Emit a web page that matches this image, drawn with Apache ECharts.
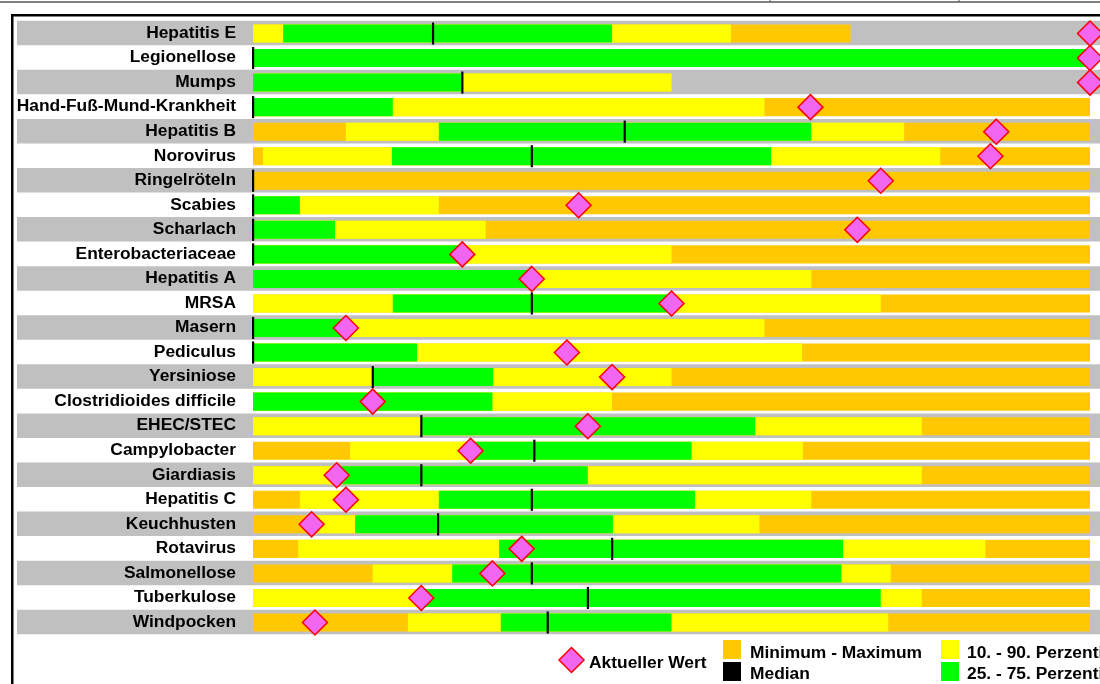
<!DOCTYPE html>
<html>
<head>
<meta charset="utf-8">
<script src="https://cdn.jsdelivr.net/npm/echarts@6/dist/echarts.min.js"></script>
<style>
html,body{margin:0;padding:0;background:#fff;}
#chart{width:1100px;height:684px;}
</style>
</head>
<body>
<div id="chart"></div>
<script>
const categories = ['Hepatitis E','Legionellose','Mumps','Hand-Fuß-Mund-Krankheit','Hepatitis B','Norovirus','Ringelröteln','Scabies','Scharlach','Enterobacteriaceae','Hepatitis A','MRSA','Masern','Pediculus','Yersiniose','Clostridioides difficile','EHEC/STEC','Campylobacter','Giardiasis','Hepatitis C','Keuchhusten','Rotavirus','Salmonellose','Tuberkulose','Windpocken'];
const minimum = [0,0,0,0,0,0,0,0,0,0,0,0,0,0,0,0,0,0,0,0,0,0,0,0,0];
const p10     = [0,0,0,0,11.1,1.2,0,0,0,0,0,0,0,0,0,0,0,11.6,0,5.6,7.0,5.4,14.3,0,18.5];
const p25     = [3.6,0,0,0,22.2,16.6,0,0,0,0,0,16.7,0,0,14.3,0,20.1,26.0,10.0,22.2,12.2,29.4,23.8,20.1,29.6];
const median  = [21.5,0,25.0,0,44.4,33.3,0,0,0,0,33.3,33.3,0,0,14.3,14.3,20.1,33.6,20.1,33.3,22.1,42.9,33.3,40.0,35.2];
const p75     = [42.9,100,25.0,16.7,66.7,61.9,0,5.6,9.8,25.0,33.3,50.0,11.1,19.6,28.7,28.6,60.0,52.4,40.0,52.8,43.0,70.5,70.3,75.0,50.0];
const p90     = [57.1,100,50.0,61.1,77.8,82.1,0,22.2,27.8,50.0,66.7,75.0,61.1,65.6,50.0,42.9,79.9,65.7,79.9,66.7,60.5,87.5,76.2,79.9,75.9];
const maximum = [71.4,100,50.0,100,100,100,100,100,100,100,100,100,100,100,100,100,100,100,100,100,100,100,100,100,100];
const current = [100,100,100,66.6,88.8,88.1,75.0,38.9,72.2,25.0,33.3,50.0,11.1,37.5,42.9,14.3,40.0,26.0,10.0,11.1,7.0,32.1,28.6,20.1,7.4];
const legendLabels = ['Aktueller Wert','Minimum - Maximum','Median','10. - 90. Perzentil','25. - 75. Perzentil'];

const FONT = 'Liberation Sans, Arial, sans-serif';
const C_ORANGE = '#FFC800', C_YELLOW = '#FFFF00', C_GREEN = '#00FF00', C_GRAY = '#C0C0C0', C_PINK = '#F266F0';

function rangeRender(params, api) {
  const idx = api.value(2);
  const s = api.coord([api.value(0), idx]);
  const e = api.coord([api.value(1), idx]);
  const h = api.size([0, 1])[1] * 0.735;
  return { type: 'rect', shape: { x: s[0], y: s[1] - h / 2 + 0.5, width: e[0] - s[0], height: h }, style: api.style() };
}
function medianRender(params, api) {
  const idx = api.value(1);
  const p = api.coord([api.value(0), idx]);
  const h = api.size([0, 1])[1] * 0.9;
  return { type: 'rect', shape: { x: p[0] - 1, y: p[1] - h / 2 + 0.5, width: 2.2, height: h }, style: { fill: '#000' } };
}
function bandRender(params, api) {
  const idx = api.value(0);
  const p = api.coord([0, idx]);
  const h = api.size([0, 1])[1];
  return { type: 'rect', shape: { x: 17, y: p[1] - h / 2, width: 1200, height: h }, style: { fill: C_GRAY } };
}

const bands = categories.map((c, i) => i).filter(i => i % 2 === 0).map(i => [i]);
const rangeData = (lo, hi) => categories.map((c, i) => [lo[i], hi[i], i]);

const chart = echarts.init(document.getElementById('chart'));
chart.setOption({
  animation: false,
  backgroundColor: '#fff',
  grid: { left: 253, right: 10, top: 20.73, bottom: 49.73 },
  xAxis: { type: 'value', min: 0, max: 100, show: false },
  yAxis: {
    type: 'category', data: categories, inverse: true, z: 10,
    axisLine: { show: false }, axisTick: { show: false }, splitLine: { show: false },
    axisLabel: { color: '#000', fontSize: 17.4, fontWeight: 'bold', fontFamily: FONT, margin: 17, padding: [5, 0, 0, 0] }
  },
  series: [
    { type: 'custom', name: 'bands', z: 0, clip: false, renderItem: bandRender, encode: { y: 0 }, data: bands, silent: true },
    { type: 'custom', name: legendLabels[1], z: 2, clip: false, renderItem: rangeRender, itemStyle: { color: C_ORANGE }, encode: { x: [0, 1], y: 2 }, data: rangeData(minimum, maximum) },
    { type: 'custom', name: legendLabels[3], z: 3, clip: false, renderItem: rangeRender, itemStyle: { color: C_YELLOW }, encode: { x: [0, 1], y: 2 }, data: rangeData(p10, p90) },
    { type: 'custom', name: legendLabels[4], z: 4, clip: false, renderItem: rangeRender, itemStyle: { color: C_GREEN }, encode: { x: [0, 1], y: 2 }, data: rangeData(p25, p75) },
    { type: 'custom', name: legendLabels[2], z: 5, clip: false, renderItem: medianRender, encode: { x: 0, y: 1 }, data: median.map((v, i) => [v, i]) },
    { type: 'scatter', name: legendLabels[0], z: 6, clip: false, symbol: 'diamond', symbolSize: 25, symbolOffset: [0, 0.5],
      itemStyle: { color: C_PINK, borderColor: '#FF0000', borderWidth: 1.5, opacity: 1 },
      data: current.map((v, i) => [v, i]) }
  ],
  graphic: [
    { type: 'line', z: 50, shape: { x1: 0, y1: 2, x2: 1100, y2: 2 }, style: { stroke: '#555', lineWidth: 1.5 } },
    { type: 'line', z: 50, shape: { x1: 770, y1: 0, x2: 770, y2: 2 }, style: { stroke: '#555', lineWidth: 1 } },
    { type: 'line', z: 50, shape: { x1: 959, y1: 0, x2: 959, y2: 2 }, style: { stroke: '#555', lineWidth: 1 } },
    { type: 'rect', z: 50, shape: { x: 12.25, y: 15.25, width: 1300, height: 1000 }, style: { fill: 'none', stroke: '#000', lineWidth: 2.5 } },
    { type: 'polygon', z: 50, shape: { points: [[571.5, 647.5], [584, 660], [571.5, 672.5], [559, 660]] }, style: { fill: C_PINK, stroke: '#FF0000', lineWidth: 1.5 } },
    { type: 'text', z: 50, x: 589, y: 663, style: { text: legendLabels[0], font: 'bold 17.4px ' + FONT, fill: '#000', verticalAlign: 'middle' } },
    { type: 'rect', z: 50, shape: { x: 723, y: 640, width: 18, height: 19 }, style: { fill: C_ORANGE } },
    { type: 'rect', z: 50, shape: { x: 723, y: 662, width: 18, height: 19 }, style: { fill: '#000' } },
    { type: 'text', z: 50, x: 750, y: 653, style: { text: legendLabels[1], font: 'bold 17.4px ' + FONT, fill: '#000', verticalAlign: 'middle' } },
    { type: 'text', z: 50, x: 750, y: 674, style: { text: legendLabels[2], font: 'bold 17.4px ' + FONT, fill: '#000', verticalAlign: 'middle' } },
    { type: 'rect', z: 50, shape: { x: 941, y: 640, width: 18, height: 19 }, style: { fill: C_YELLOW } },
    { type: 'rect', z: 50, shape: { x: 941, y: 662, width: 18, height: 19 }, style: { fill: C_GREEN } },
    { type: 'text', z: 50, x: 967, y: 653, style: { text: legendLabels[3], font: 'bold 17.4px ' + FONT, fill: '#000', verticalAlign: 'middle' } },
    { type: 'text', z: 50, x: 967, y: 674, style: { text: legendLabels[4], font: 'bold 17.4px ' + FONT, fill: '#000', verticalAlign: 'middle' } }
  ]
});
</script>
</body>
</html>
